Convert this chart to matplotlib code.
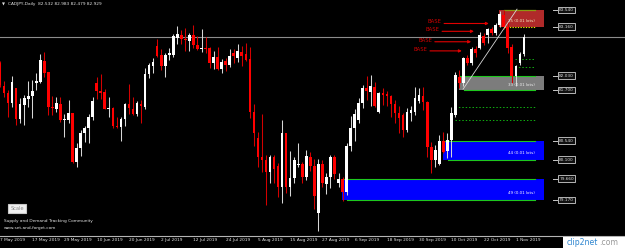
import matplotlib
matplotlib.use("Agg")
import matplotlib.pyplot as plt
import matplotlib.transforms as mtransforms
from matplotlib.patches import Rectangle
import numpy as np

# ---------------- data ----------------
tick_labels = ["7 May 2019", "17 May 2019", "29 May 2019", "10 Jun 2019", "20 Jun 2019",
               "2 Jul 2019", "12 Jul 2019", "24 Jul 2019", "5 Aug 2019", "15 Aug 2019",
               "27 Aug 2019", "6 Sep 2019", "18 Sep 2019", "30 Sep 2019", "10 Oct 2019",
               "22 Oct 2019", "1 Nov 2019"]

opens = [82.32, 81.79, 81.63, 81.40, 81.75, 81.03, 81.36, 81.49, 81.56, 81.86,
         81.89, 82.37, 82.12, 81.31, 81.26, 81.38, 81.01, 81.01, 81.17, 80.05,
         80.37, 80.71, 80.83, 81.08, 81.86, 81.68, 81.66, 81.26, 81.29, 80.87,
         80.85, 81.03, 81.38, 81.26, 81.15, 81.38, 81.31, 82.07, 82.25, 82.71,
         82.51, 82.25, 82.51, 82.51, 82.90, 82.97, 82.87, 82.83, 82.97, 82.74,
         82.64, 82.67, 82.67, 82.32, 82.46, 82.18, 82.37, 82.28, 82.55, 82.44,
         82.57, 82.53, 82.41, 81.20, 80.60, 80.16, 80.09, 79.82, 80.16, 79.95,
         79.47, 80.71, 79.47, 79.68, 79.98, 80.00, 79.70, 80.16, 79.95, 78.87,
         80.00, 79.54, 79.70, 80.16, 79.56, 79.65, 79.36, 80.41, 80.83, 81.01,
         81.40, 81.75, 81.66, 81.77, 81.20, 81.63, 81.61, 81.56, 81.38, 81.17,
         81.13, 80.78, 81.17, 81.20, 81.45, 81.56, 81.43, 80.39, 80.09, 80.00,
         80.53, 80.30, 80.55, 81.13, 82.00, 81.86, 82.44, 82.32, 82.64, 82.67,
         82.94, 82.97, 83.10, 83.01, 83.20, 83.43, 83.15, 82.69, 82.02, 82.32,
         82.532]
highs = [82.37, 81.91, 81.70, 82.02, 81.75, 81.52, 81.59, 81.91, 81.93, 82.09,
         82.53, 82.57, 82.12, 81.56, 81.54, 81.54, 81.15, 81.47, 81.17, 80.48,
         80.78, 80.87, 81.15, 81.54, 82.00, 82.07, 81.72, 81.54, 81.31, 81.08,
         81.08, 81.40, 81.84, 81.54, 81.45, 81.47, 82.21, 82.32, 82.44, 82.87,
         82.64, 82.55, 82.67, 82.99, 83.17, 83.08, 83.13, 83.01, 83.20, 82.94,
         83.10, 82.92, 82.69, 82.60, 82.69, 82.41, 82.44, 82.64, 82.64, 82.76,
         82.71, 82.78, 82.69, 81.38, 80.74, 81.15, 80.21, 80.21, 80.21, 80.02,
         81.01, 80.71, 80.30, 80.16, 80.48, 80.05, 80.32, 80.28, 80.11, 80.11,
         80.09, 79.79, 80.21, 80.21, 79.79, 79.70, 80.48, 81.10, 81.26, 81.52,
         81.82, 82.02, 82.05, 81.89, 81.66, 81.75, 81.68, 81.59, 81.47, 81.33,
         81.17, 81.29, 81.33, 81.77, 81.75, 81.77, 81.45, 80.51, 80.44, 80.67,
         80.74, 80.71, 81.31, 82.12, 82.16, 82.46, 82.51, 82.69, 82.71, 83.03,
         83.01, 83.13, 83.15, 83.24, 83.52, 83.54, 83.31, 82.76, 82.28, 82.57,
         82.983]
lows = [81.77, 81.54, 81.08, 81.31, 80.90, 80.94, 80.90, 81.31, 81.06, 81.70,
        81.86, 82.00, 81.13, 81.13, 81.20, 80.97, 80.62, 80.94, 80.02, 79.93,
        80.18, 80.51, 80.48, 81.01, 81.49, 81.49, 81.26, 81.08, 80.83, 80.83,
        80.53, 80.87, 81.15, 81.13, 81.10, 80.94, 81.26, 81.98, 82.09, 82.46,
        82.16, 82.00, 82.39, 82.46, 82.76, 82.76, 82.60, 82.60, 82.67, 82.62,
        82.57, 82.55, 82.21, 82.18, 82.16, 82.09, 82.14, 82.23, 82.32, 82.34,
        82.25, 82.37, 81.06, 80.41, 79.93, 79.82, 79.06, 79.56, 79.56, 79.24,
        79.10, 79.33, 79.26, 79.56, 79.93, 79.56, 79.63, 79.84, 78.97, 78.46,
        79.47, 79.31, 79.45, 79.65, 79.47, 79.15, 79.29, 80.30, 80.53, 80.94,
        81.29, 81.47, 81.33, 81.31, 81.17, 81.36, 81.33, 81.08, 80.94, 80.71,
        80.62, 80.74, 80.99, 81.13, 81.40, 81.24, 80.16, 79.79, 79.93, 79.98,
        80.25, 80.14, 80.16, 81.08, 81.75, 81.79, 82.28, 82.28, 82.46, 82.64,
        82.74, 82.78, 82.97, 82.97, 83.15, 83.10, 82.55, 81.86, 81.80, 82.28,
        82.479]
closes = [81.82, 81.63, 81.40, 81.89, 81.03, 81.38, 81.52, 81.56, 81.68, 81.91,
          82.39, 82.09, 81.31, 81.29, 81.40, 81.01, 81.03, 81.17, 80.05, 80.37,
          80.71, 80.83, 81.08, 81.45, 81.68, 81.63, 81.26, 81.29, 80.87, 80.85,
          81.03, 81.38, 81.29, 81.15, 81.40, 81.33, 82.07, 82.28, 82.34, 82.48,
          82.25, 82.51, 82.55, 82.94, 82.99, 82.87, 82.85, 82.97, 82.74, 82.64,
          82.67, 82.64, 82.32, 82.46, 82.18, 82.34, 82.28, 82.48, 82.48, 82.60,
          82.48, 82.39, 81.20, 80.71, 80.16, 80.09, 79.82, 80.16, 79.89, 79.47,
          80.71, 79.47, 79.68, 80.09, 80.00, 79.70, 80.18, 79.95, 79.26, 80.00,
          79.56, 79.70, 80.16, 79.77, 79.65, 79.36, 80.41, 80.83, 81.15, 81.40,
          81.75, 81.68, 81.79, 81.33, 81.63, 81.59, 81.56, 81.38, 81.17, 81.06,
          80.78, 81.20, 81.24, 81.52, 81.59, 81.43, 80.39, 80.09, 80.32, 80.53,
          80.28, 80.55, 81.17, 82.05, 81.86, 82.44, 82.32, 82.64, 82.55, 82.97,
          82.78, 83.10, 83.01, 83.20, 83.45, 83.15, 82.67, 82.02, 82.25, 82.53,
          82.929]

# supply / demand zones
zone_tops = [83.54, 82.03, 80.54, 79.66]
zone_bottoms = [83.16, 81.70, 80.10, 79.17]
zone_start = [123.8, 113.9, 109.9, 84.9]
zone_texts = ["35 (0.01 lots)", "33 (0.01 lots)", "44 (0.01 lots)", "49 (0.01 lots)"]
zone_colors = ["#b02a2a", "#7c7c7c", "#0000ff", "#0000ff"]

# dotted levels
dot_levels = [82.41, 82.22, 81.32, 81.01]
dot_start = [127.8, 127.8, 112.9, 112.9]

# BASE annotations
base_levels = [83.23, 83.05, 82.81, 82.60]
base_targets = [121.3, 117.6, 116.9, 114.6]

last_price = 82.929
title = "CADJPY,Daily  82.532 82.983 82.479 82.929"

# ---------------- figure ----------------
W, H = 625, 248
PX_PER_BAR = 4.03
PX_PER_UNIT = 43.5
TOP_PRICE = 83.77

fig = plt.figure(figsize=(W / 100, H / 100), dpi=100, facecolor="black")
ax = fig.add_axes([0, 12 / H, 1, 236 / H])
ax.set_facecolor("black")
ax.set_xlim(0, W / PX_PER_BAR)
ax.set_ylim(TOP_PRICE - 236 / PX_PER_UNIT, TOP_PRICE)

o = np.array(opens); h = np.array(highs); l = np.array(lows); c = np.array(closes)
x = np.arange(len(o))
up = c >= o

# zones
zone_end = 135.0
line_end = 132.8
for i, (zt, zb, zs, zc) in enumerate(zip(zone_tops, zone_bottoms, zone_start, zone_colors)):
    ax.add_patch(Rectangle((zs, zb), zone_end - zs, zt - zb, facecolor=zc,
                           edgecolor="none", zorder=1))
    if i == 0:
        ax.plot([zs + 1.2, line_end], [zt - 0.01, zt - 0.01], color="#8a9a10", lw=0.9, zorder=2)
        ax.plot([zs + 1.2, line_end], [zb - 0.005, zb - 0.005], color="#e6e600", lw=0.8,
                ls=(0, (1.2, 1.2)), zorder=2)
        tcol = "#f2f2c8"
    else:
        ax.plot([zs + 0.3, line_end], [zt, zt], color="#1ec81e", lw=0.8, zorder=2)
        ax.plot([zs + 1.2, line_end], [zb, zb], color="#1ec81e", lw=0.8, zorder=2)
        tcol = "#f0f0f0" if i == 1 else "#ffffff"
    ax.text(line_end, (zt + zb) / 2 - (zt - zb) * 0.15, zone_texts[i], ha="right",
            va="center", fontsize=2.9, color=tcol, zorder=5)

for lv, ds in zip(dot_levels, dot_start):
    ax.plot([ds, line_end], [lv, lv], color="#10b010", lw=0.7, ls=(0, (1.5, 2)), zorder=2)

# last price line
ax.axhline(last_price, color="#8c8c8c", lw=0.8, zorder=2)

# candles
body_bottom = np.minimum(o, c)
body_h = np.maximum(np.abs(c - o), 0.03)
ax.vlines(x[up], l[up], h[up], colors="#d6d6d6", lw=0.75, zorder=3)
ax.vlines(x[~up], l[~up], h[~up], colors="#d40000", lw=0.75, zorder=3)
ax.bar(x[up], body_h[up], bottom=body_bottom[up], width=0.66, color="#ffffff",
       linewidth=0, zorder=4)
ax.bar(x[~up], body_h[~up], bottom=body_bottom[~up], width=0.66, color="#ff0000",
       linewidth=0, zorder=4)

# trend line
ax.plot([114.9, 128.3], [81.72, 83.56], color="#d8d8d8", lw=0.6, zorder=5)

# BASE labels with arrows
base_starts = [110.2, 109.7, 107.9, 106.7]
for lv, tgt, st in zip(base_levels, base_targets, base_starts):
    ax.annotate("", xy=(tgt, lv), xytext=(st, lv),
                arrowprops=dict(arrowstyle="-|>", color="#e00000", lw=0.8,
                                mutation_scale=4, shrinkA=0, shrinkB=0), zorder=6)
    ax.text(st - 0.6, lv + 0.04, "BASE", ha="right", va="center", fontsize=3.8,
            color="#d00000", zorder=6)

# price tags on the right
trans = mtransforms.blended_transform_factory(ax.transAxes, ax.transData)
for p in zone_tops + zone_bottoms:
    ax.plot([553 / W, 557 / W], [p, p], color="#c8c8c8", lw=0.7, transform=trans,
            clip_on=False, zorder=6)
    ax.text(566.5 / W, p, f"{p:.3f}", transform=trans, ha="center", va="center",
            fontsize=3.1, color="#d8d8d8", zorder=7,
            bbox=dict(boxstyle="square,pad=0.3", fc="#101010", ec="#d0d0d0", lw=0.6))

# axes styling
for s in ["top", "left", "right"]:
    ax.spines[s].set_visible(False)
ax.spines["bottom"].set_color("#b4b4b4")
ax.spines["bottom"].set_linewidth(0.8)
ax.set_yticks([])
ax.set_xticks(np.arange(0, 8 * len(tick_labels), 8))
ax.set_xticklabels(tick_labels, fontsize=3.1, color="#e6e6e6")
for lab in ax.get_xticklabels():
    lab.set_ha("left")
ax.tick_params(axis="x", length=0, pad=1.4)

# header and footer texts
fig.text(2 / W, 1 - 4.5 / H, "\u25bc", fontsize=2.8, color="#e0e0e0", va="center", ha="left")
fig.text(8 / W, 1 - 4.5 / H, title, fontsize=3.1, color="#e6e6e6", va="center", ha="left")

fig.text(17 / W, 1 - 208.5 / H, "Scale", ha="center", va="center", fontsize=3.6,
         color="#8a8a8a",
         bbox=dict(boxstyle="square,pad=0.35", fc="#f0f0f0", ec="#c8c8c8", lw=0.8))
fig.text(4 / W, 1 - 221 / H, "Supply and Demand Tracking Community", fontsize=3.1,
         color="#e6e6e6", va="center", ha="left")
fig.text(4 / W, 1 - 228.5 / H, "www.set-and-forget.com", fontsize=3.1,
         color="#e6e6e6", va="center", ha="left")

# clip2net badge
fig.patches.append(Rectangle((563 / W, 0), 62 / W, 11 / H, transform=fig.transFigure,
                             facecolor="#ffffff", edgecolor="none", zorder=0))
fig.text(567 / W, 5.5 / H, "clip2net", fontsize=5.6, color="#2f86d0", va="center",
         ha="left", zorder=10)
fig.text(599 / W, 5.5 / H, ".com", fontsize=5.6, color="#9a9a9a", va="center",
         ha="left", zorder=10)

fig.savefig("out.png", dpi=100, facecolor="black")
